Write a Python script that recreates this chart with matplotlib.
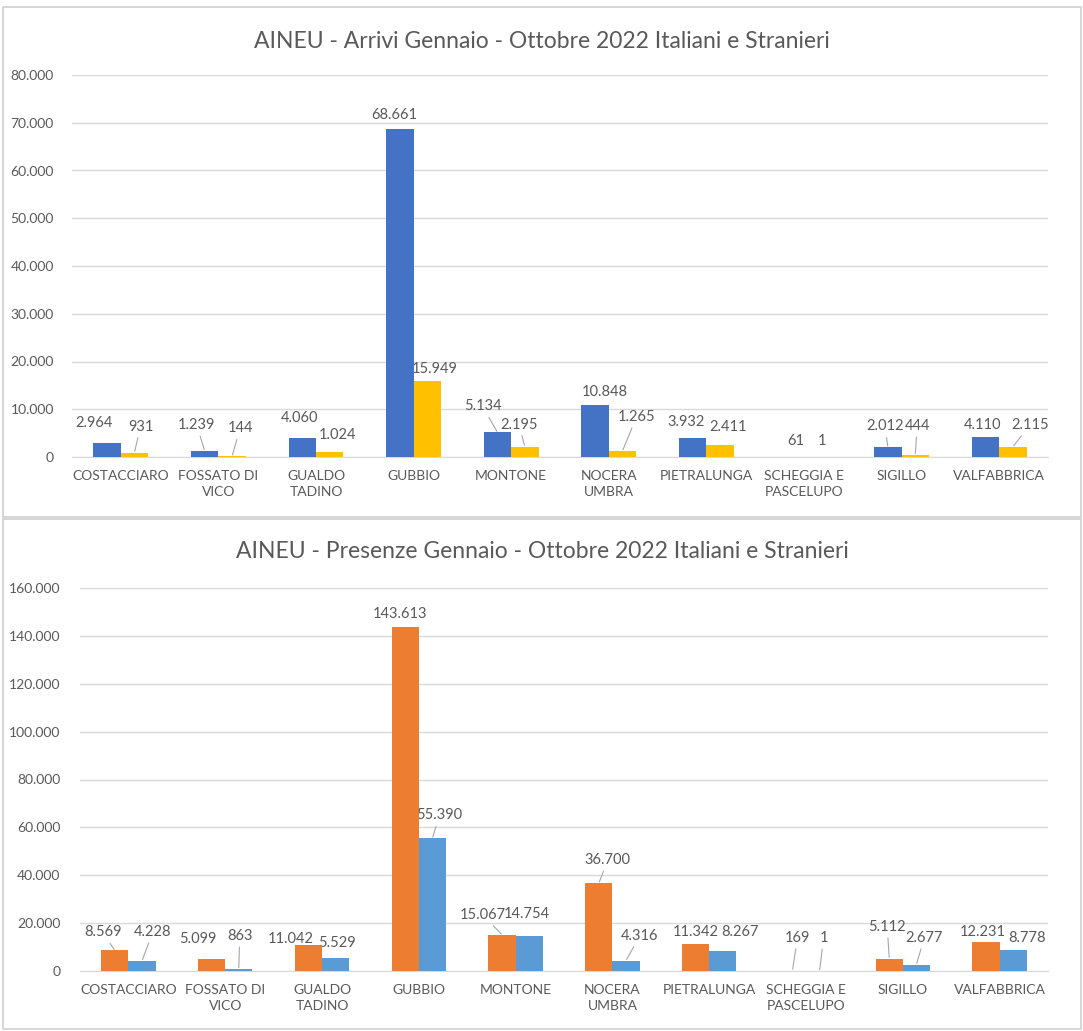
import matplotlib
matplotlib.use("Agg")
import matplotlib.pyplot as plt
from matplotlib.patches import Rectangle
from matplotlib.ticker import FuncFormatter

plt.rcParams['font.family'] = ['Lato', 'DejaVu Sans']

comuni = ["COSTACCIARO", "FOSSATO DI\nVICO", "GUALDO\nTADINO", "GUBBIO", "MONTONE",
          "NOCERA\nUMBRA", "PIETRALUNGA", "SCHEGGIA E\nPASCELUPO", "SIGILLO", "VALFABBRICA"]

arrivi_italiani = [2964, 1239, 4060, 68661, 5134, 10848, 3932, 61, 2012, 4110]
arrivi_stranieri = [931, 144, 1024, 15949, 2195, 1265, 2411, 1, 444, 2115]

presenze_italiani = [8569, 5099, 11042, 143613, 15067, 36700, 11342, 169, 5112, 12231]
presenze_stranieri = [4228, 863, 5529, 55390, 14754, 4316, 8267, 1, 2677, 8778]

# label offsets in pixels from bar top (dx, dy, leader line?)
off_arr_ita = [(-13, 20, 0), (-8, 26, 1), (-3, 20, 0), (-6, 14, 0), (-15, 26, 1),
               (10, 13, 0), (-7, 16, 0), (5, 16, 0), (-3, 21, 1), (-3, 12, 0)]
off_arr_str = [(6, 26, 1), (8, 28, 1), (8, 17, 0), (7, 12, 0), (-6, 22, 1),
               (14, 34, 1), (8, 18, 0), (4, 16, 0), (2, 29, 1), (17, 22, 1)]
off_pre_ita = [(-12, 18, 1), (-14, 20, 0), (-18, 6, 0), (-5, 13, 0), (-19, 20, 1),
               (9, 23, 1), (0, 12, 0), (5, 33, 1), (-2, 32, 1), (-3, 10, 0)]
off_pre_str = [(11, 29, 1), (1, 33, 1), (1, 15, 0), (7, 23, 1), (-2, 22, 0),
               (14, 25, 1), (17, 19, 0), (4, 33, 1), (8, 27, 1), (14, 12, 0)]

W, H = 1083, 1031
GREY = "#595959"
GRID = "#D9D9D9"

fig = plt.figure(figsize=(W / 100, H / 100), dpi=100)


def fmt(v):
    return f"{int(v):,}".replace(",", ".")


def px_rect(l, t, r, b):
    return [l / W, 1 - b / H, (r - l) / W, (b - t) / H]


def draw_chart(rect, frame, title, title_y, s1, s2, c1, c2, off1, off2, ymax, ystep, ypad):
    fig.patches.append(Rectangle((frame[0] / W, 1 - frame[3] / H),
                                 (frame[2] - frame[0]) / W, (frame[3] - frame[1]) / H,
                                 transform=fig.transFigure, fill=False,
                                 edgecolor="#D0D0D0", linewidth=1.2))
    fig.text(0.5 * (frame[0] + frame[2]) / W, 1 - title_y / H, title,
             ha="center", va="center", fontsize=16.5, color=GREY)
    ax = fig.add_axes(px_rect(*rect))
    x = list(range(len(comuni)))
    w = 0.28
    b1 = ax.bar([i - w / 2 for i in x], s1, width=w, color=c1, zorder=3)
    b2 = ax.bar([i + w / 2 for i in x], s2, width=w, color=c2, zorder=3)
    for bars, vals, offs in ((b1, s1, off1), (b2, s2, off2)):
        for bar, v, (dx, dy, lead) in zip(bars, vals, offs):
            xc = bar.get_x() + bar.get_width() / 2
            kw = {}
            if lead:
                kw["arrowprops"] = dict(arrowstyle="-", color="#A6A6A6", lw=0.8,
                                        shrinkA=1, shrinkB=1)
            ax.annotate(fmt(v), xy=(xc, v), xytext=(dx, dy), textcoords="offset pixels",
                        ha="center", va="center", fontsize=10.5, color=GREY,
                        zorder=2, **kw)
    ax.set_xlim(-0.5, len(comuni) - 0.5)
    ax.set_ylim(0, ymax)
    ax.set_yticks(range(0, ymax + 1, ystep))
    ax.yaxis.set_major_formatter(FuncFormatter(lambda v, p: fmt(v)))
    ax.set_xticks(x)
    ax.set_xticklabels(comuni, fontsize=10, color=GREY, linespacing=1.5)
    ax.tick_params(axis="both", length=0, labelsize=10, colors=GREY)
    ax.tick_params(axis="y", pad=ypad)
    ax.tick_params(axis="x", pad=9)
    ax.grid(axis="y", color=GRID, linewidth=1, zorder=0)
    for s in ("top", "right", "left"):
        ax.spines[s].set_visible(False)
    ax.spines["bottom"].set_color(GRID)
    ax.set_facecolor("none")
    return ax


draw_chart((72, 75, 1048, 457), (3, 7, 1081, 517),
           "AINEU - Arrivi Gennaio - Ottobre 2022 Italiani e Stranieri", 42,
           arrivi_italiani, arrivi_stranieri, "#4472C4", "#FFC000",
           off_arr_ita, off_arr_str, 80000, 10000, 13)

draw_chart((80, 588, 1048, 971), (3, 519, 1081, 1029),
           "AINEU - Presenze Gennaio - Ottobre 2022 Italiani e Stranieri", 551,
           presenze_italiani, presenze_stranieri, "#ED7D31", "#5B9BD5",
           off_pre_ita, off_pre_str, 160000, 20000, 14)

fig.savefig("out.png", dpi=100)
